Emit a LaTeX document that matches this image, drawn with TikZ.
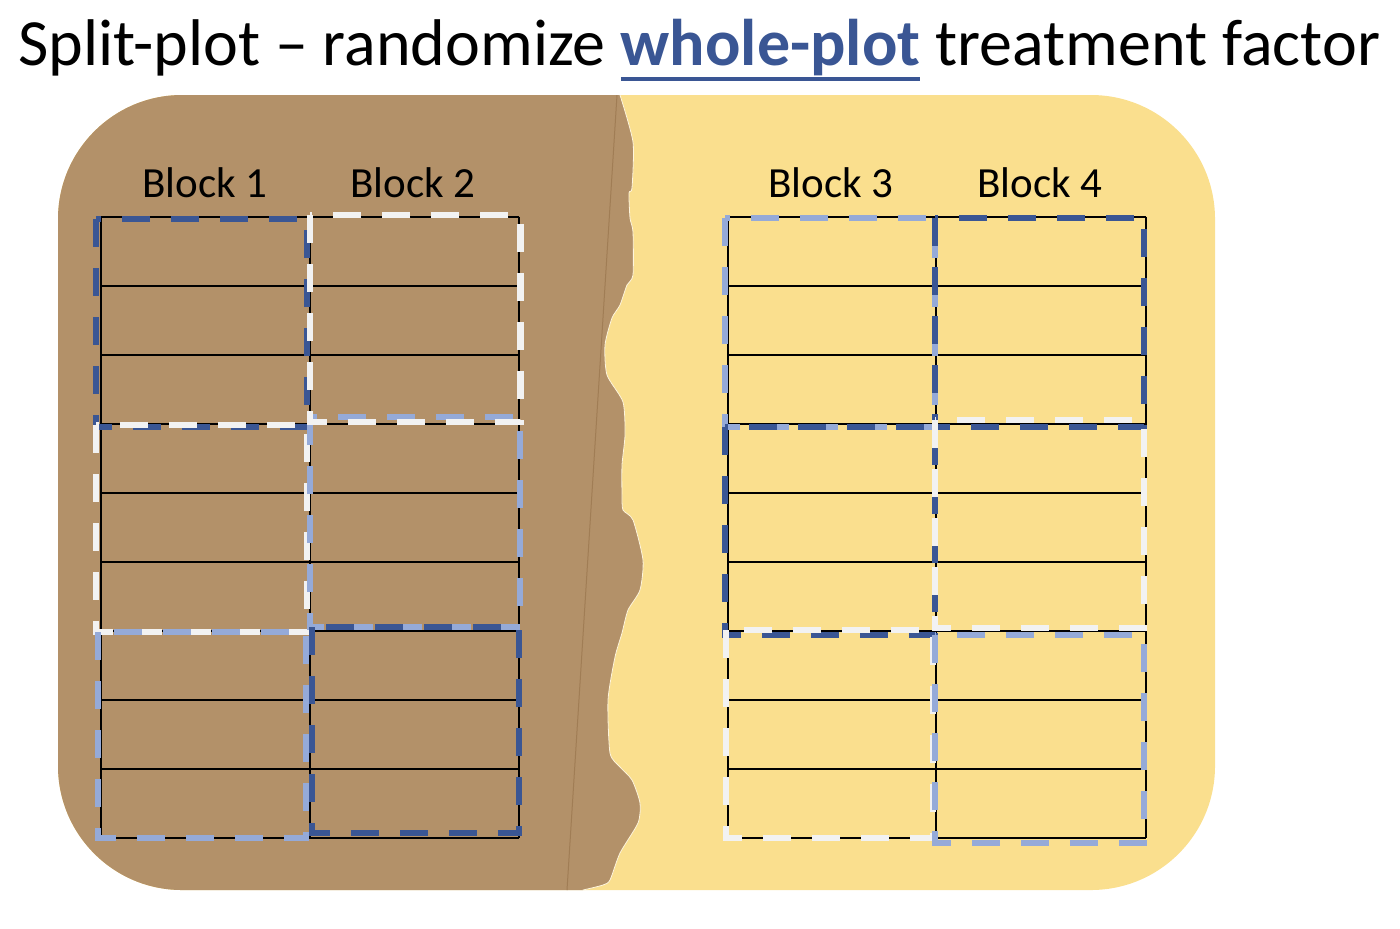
\documentclass[tikz,border=0pt]{standalone}
\usepackage{fontspec}
\setmainfont{Carlito}
\usetikzlibrary{positioning}

\definecolor{soil}{RGB}{179,145,105}
\definecolor{soilline}{RGB}{160,125,85}
\definecolor{sand}{RGB}{250,223,142}
\definecolor{wpdarkblue}{RGB}{58,86,148}
\definecolor{wplightblue}{RGB}{149,170,216}
\definecolor{wpoffwhite}{RGB}{242,242,242}

% thick underline for the title word
\newcommand{\thickul}[1]{\setbox0\hbox{#1}\makebox[0pt][l]{\rule[-0.235em]{\wd0}{0.06em}}\box0}

\begin{document}
\begin{tikzpicture}[
    x=0.5pt, y=-0.5pt,
    subplot/.style={draw=black, line width=1pt},
    wholeplot/.style={line width=3.3pt, dash pattern=on 14pt off 10.5pt},
    wpdark/.style={wholeplot, draw=wpdarkblue},
    wplight/.style={wholeplot, draw=wplightblue},
    wpwhite/.style={wholeplot, draw=wpoffwhite},
    blocklabel/.style={font=\fontsize{21.5}{26}\selectfont, anchor=base}
]
\useasboundingbox (0,0) rectangle (1400,928);

% ============= TITLE =============
\node[font=\fontsize{33}{40}\selectfont, anchor=base] (title) at (699,65)
    {Split-plot -- randomize \textcolor{wpdarkblue}{\thickul{\textbf{whole-plot}}} treatment factor};

% ============= FIELD =============
\fill[sand, rounded corners=62pt] (58,95) rectangle (1215,890);
\begin{scope}
  \clip[rounded corners=62pt] (58,95) rectangle (1215,890);
  \filldraw[fill=soil, draw=white!70!sand, line width=0.4pt] (620,0) -- (620,95)
    -- plot[smooth, tension=0.4] coordinates {(620,95) (633,142) (632,188) (629,193)
      (630,218) (633,232) (633,275) (627,285) (620,305) (612,318) (605,345) (607,375)
      (623,402) (625,435) (622,465) (622,495) (623,510) (633,520) (643,560) (640,590)
      (628,610) (622,633) (615,657) (608,700) (610,753) (620,767) (632,780) (640,803)
      (638,823) (620,853) (610,880) (603,885) (583,890)}
    -- (583,928) -- (0,928) -- (0,0) -- cycle;
  \draw[soilline, line width=0.5pt] (617,95) -- (567,890);
\end{scope}

% Block labels
\node[blocklabel] (b1) at (205,197) {Block 1};
\node[blocklabel] (b2) at (413,197) {Block 2};
\node[blocklabel] (b3) at (831,197) {Block 3};
\node[blocklabel] (b4) at (1040,197) {Block 4};

% ============= SUBPLOTS =============
\foreach \k in {0,...,9} {
    \draw[subplot] (100.7,{216.7+69*\k}) -- (518.7,{216.7+69*\k});
    \draw[subplot] (728,{216.7+69*\k}) -- (1145.7,{216.7+69*\k});
}
\foreach \xx in {100.7,310,518.7,728,936,1145.7} {
    \draw[subplot] (\xx,216.7) -- (\xx,837.7);
}

% ============= WHOLE PLOTS =============
% Block 1
\draw[wpdark] (96,219) rectangle (307,427);
\draw[wpwhite] (96,425) rectangle (307,632);
\draw[wplight] (98,632) rectangle (306,838);

% Block 2
\draw[wplight] (310,417) rectangle (520,627);
\draw[wpwhite] (310,215) rectangle (520.7,422);
\draw[wpdark] (312,627) rectangle (519,833);

% Block 3
\draw[wplight] (725,218) rectangle (935,427);
\draw[wpdark] (725,427) rectangle (935,635);
\draw[wpwhite] (726,630) rectangle (933,838);

% Block 4
\draw[wpdark] (935,218) rectangle (1144,427);
\draw[wpwhite] (935,420) rectangle (1144,628);
\draw[wplight] (935,635) rectangle (1144,843);

\end{tikzpicture}
\end{document}
